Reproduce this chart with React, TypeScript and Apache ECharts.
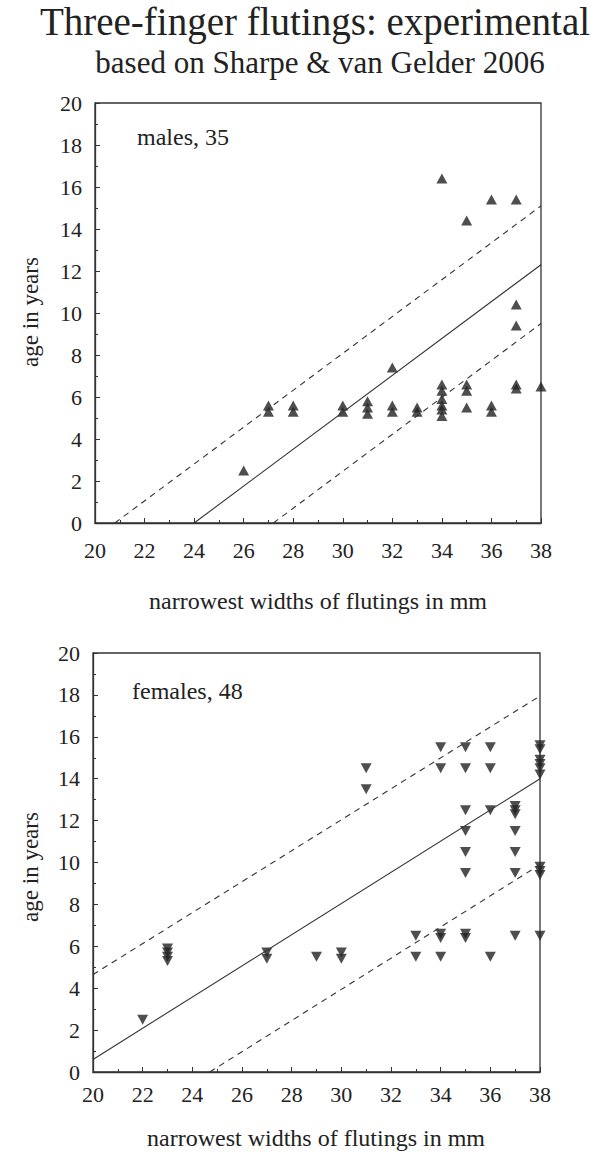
import React, { useEffect, useRef } from "react";
import * as echarts from "echarts";

// ---- data ----
const xTicks = [20, 22, 24, 26, 28, 30, 32, 34, 36, 38];
const yTicks = [0, 2, 4, 6, 8, 10, 12, 14, 16, 18, 20];

const maleWidths = [
  26, 27, 27, 28, 28, 30, 30, 31, 31, 31, 32, 32, 32, 33, 33,
  34, 34, 34, 34, 34, 34, 34, 35, 35, 35, 35, 36, 36, 36,
  37, 37, 37, 37, 37, 38,
];
const maleAges = [
  2.5, 5.3, 5.6, 5.3, 5.6, 5.3, 5.6, 5.2, 5.5, 5.8, 7.4, 5.3, 5.6, 5.3, 5.5,
  16.4, 6.3, 6.6, 5.1, 5.4, 5.6, 5.9, 14.4, 6.3, 6.6, 5.5, 15.4, 5.3, 5.6,
  15.4, 10.4, 9.4, 6.4, 6.6, 6.5,
];

const femaleWidths = [
  22, 23, 23, 23, 23, 27, 27, 29, 30, 30, 31, 31, 33, 33,
  34, 34, 34, 34, 34,
  35, 35, 35, 35, 35, 35, 35, 35,
  36, 36, 36, 36,
  37, 37, 37, 37, 37, 37, 37,
  38, 38, 38, 38, 38, 38, 38, 38, 38, 38,
];
const femaleAges = [
  2.5, 5.3, 5.5, 5.7, 5.9, 5.4, 5.7, 5.5, 5.4, 5.7, 13.5, 14.5, 5.5, 6.5,
  15.5, 14.5, 6.4, 6.6, 5.5,
  15.5, 14.5, 12.5, 11.5, 10.5, 9.5, 6.4, 6.6,
  15.5, 14.5, 12.5, 5.5,
  12.3, 12.5, 12.7, 11.5, 10.5, 9.5, 6.5,
  15.4, 15.6, 14.2, 14.5, 14.7, 14.9, 9.4, 9.6, 9.8, 6.5,
];

const maleFit = [[24, 0], [38, 12.3]];
const maleUpper = [[20.8, 0], [38, 15.1]];
const maleLower = [[27.2, 0], [38, 9.5]];
const femaleFit = [[20, 0.6], [38, 14.0]];
const femaleUpper = [[20, 4.65], [38, 17.95]];
const femaleLower = [[24.7, 0], [38, 9.9]];

const FONT = "Liberation Serif";
const INK = "#222";
const LINE = "#333";

function xAxisFor(gridIndex: number, margin: number) {
  return {
    type: "value",
    gridIndex,
    min: xTicks[0],
    max: xTicks[xTicks.length - 1],
    interval: 2,
    axisLine: { show: true, onZero: false, lineStyle: { color: LINE, width: 1.3 } },
    axisTick: { show: true, inside: true, length: 5, lineStyle: { color: LINE, width: 1 } },
    minorTick: { show: true, splitNumber: 2, length: 3, lineStyle: { color: LINE, width: 1 } },
    splitLine: { show: false },
    axisLabel: { color: INK, fontFamily: FONT, fontSize: 22, margin },
  };
}
function yAxisFor(gridIndex: number) {
  return {
    type: "value",
    gridIndex,
    min: yTicks[0],
    max: yTicks[yTicks.length - 1],
    interval: 2,
    axisLine: { show: true, onZero: false, lineStyle: { color: LINE, width: 1.3 } },
    axisTick: { show: true, inside: true, length: 5, lineStyle: { color: LINE, width: 1 } },
    minorTick: { show: true, splitNumber: 2, length: 3, lineStyle: { color: LINE, width: 1 } },
    splitLine: { show: false },
    axisLabel: { color: INK, fontFamily: FONT, fontSize: 22, margin: 13 },
  };
}

function lineSeries(data: number[][], idx: number, dashed: boolean) {
  return {
    type: "line",
    xAxisIndex: idx,
    yAxisIndex: idx,
    data,
    showSymbol: false,
    symbol: "none",
    silent: true,
    lineStyle: { color: LINE, width: 1.1, type: dashed ? [6, 5] : "solid" },
  };
}

export default function App() {
  const ref = useRef<HTMLDivElement>(null);
  useEffect(() => {
    if (!ref.current) return;
    const chart = echarts.init(ref.current, null, { renderer: "svg" });
    const malePts = maleWidths.map((x, i) => [x, maleAges[i]]);
    const femalePts = femaleWidths.map((x, i) => [x, femaleAges[i]]);
    const text = (t: string, x: number, y: number, size: number, align = "left", rotation = 0) => ({
      type: "text",
      x,
      y,
      rotation,
      style: {
        text: t,
        fill: INK,
        fontFamily: FONT,
        fontSize: size,
        align,
        verticalAlign: "middle",
      },
    });
    chart.setOption({
      animation: false,
      backgroundColor: "#fff",
      grid: [
        { left: 95, top: 103, width: 446, height: 420, show: true, borderColor: LINE, borderWidth: 1.3, backgroundColor: "transparent" },
        { left: 93, top: 653, width: 447, height: 419, show: true, borderColor: LINE, borderWidth: 1.3, backgroundColor: "transparent" },
      ],
      xAxis: [xAxisFor(0, 16), xAxisFor(1, 11)],
      yAxis: [yAxisFor(0), yAxisFor(1)],
      series: [
        lineSeries(maleFit, 0, false),
        lineSeries(maleUpper, 0, true),
        lineSeries(maleLower, 0, true),
        lineSeries(femaleFit, 1, false),
        lineSeries(femaleUpper, 1, true),
        lineSeries(femaleLower, 1, true),
        {
          type: "scatter",
          xAxisIndex: 0,
          yAxisIndex: 0,
          data: malePts,
          symbol: "triangle",
          symbolSize: [11, 10],
          itemStyle: { color: "#222" },
        },
        {
          type: "scatter",
          xAxisIndex: 1,
          yAxisIndex: 1,
          data: femalePts,
          symbol: "triangle",
          symbolRotate: 180,
          symbolSize: [11, 10],
          itemStyle: { color: "#222" },
        },
      ],
      graphic: [
        text("Three-finger flutings: experimental", 315, 21, 39, "center"),
        text("based on Sharpe & van Gelder 2006", 320, 62, 31, "center"),
        text("males, 35", 137, 137, 24),
        text("females, 48", 132, 691, 24),
        text("age in years", 30, 312, 23, "center", Math.PI / 2),
        text("age in years", 30, 867, 23, "center", Math.PI / 2),
        text("narrowest widths of flutings in mm", 318, 601, 24, "center"),
        text("narrowest widths of flutings in mm", 316, 1138, 24, "center"),
      ],
    });
    return () => chart.dispose();
  }, []);
  return (
    <div
      ref={ref}
      style={{ position: "absolute", left: 0, top: 0, width: 600, height: 1166 }}
    />
  );
}
